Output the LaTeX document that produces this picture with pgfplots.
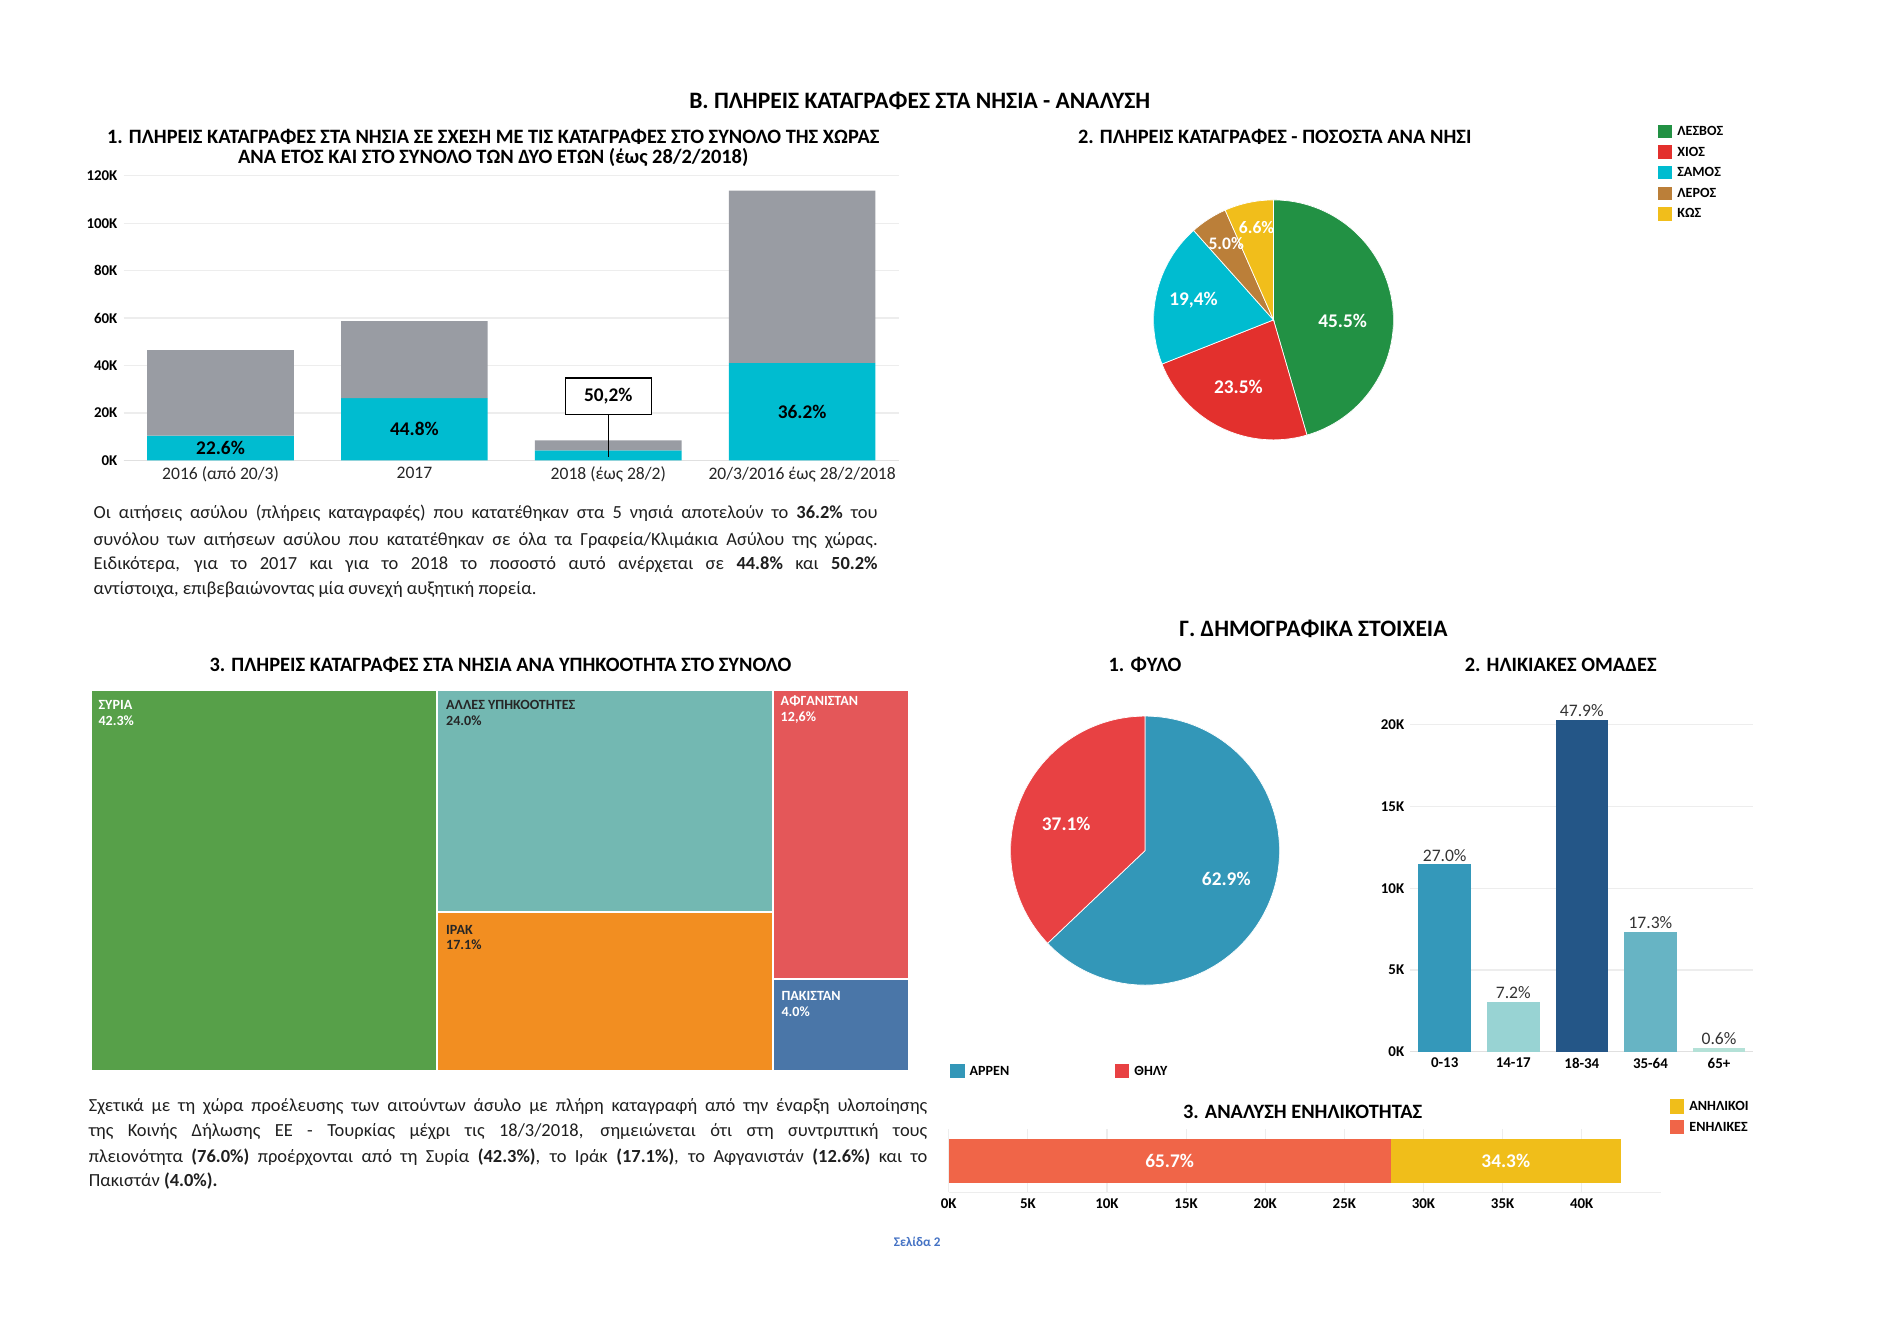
\documentclass[border=0pt]{standalone}
\usepackage{fontspec}
\setmainfont{Carlito}
\usepackage{pgfplots}
\pgfplotsset{compat=1.18}

\definecolor{cGray}{HTML}{999CA3}
\definecolor{cCyan}{HTML}{00BCD0}
\definecolor{cLesvos}{HTML}{229144}
\definecolor{cChios}{HTML}{E3302D}
\definecolor{cSamos}{HTML}{00BCD0}
\definecolor{cLeros}{HTML}{BB7F39}
\definecolor{cKos}{HTML}{F1BE1B}
\definecolor{cSyria}{HTML}{57A049}
\definecolor{cOther}{HTML}{73B8B2}
\definecolor{cIraq}{HTML}{F28E21}
\definecolor{cAfg}{HTML}{E45759}
\definecolor{cPak}{HTML}{4A76A8}
\definecolor{cMale}{HTML}{3397B8}
\definecolor{cFemale}{HTML}{E84143}
\definecolor{cAgeA}{HTML}{3498BA}
\definecolor{cAgeB}{HTML}{98D3D3}
\definecolor{cAgeC}{HTML}{245687}
\definecolor{cAgeD}{HTML}{67B4C4}
\definecolor{cAgeE}{HTML}{B4E1D7}
\definecolor{cAdult}{HTML}{F06548}
\definecolor{cMinor}{HTML}{F0BE1A}
\definecolor{cPage}{HTML}{4472C4}

\newcommand\fs[2]{\fontsize{#1}{#2}\selectfont}

% pie slices, clockwise from 12 o'clock: radius, list of pct/colour
\newcommand\pieslices[2]{%
  \gdef\piecum{0}%
  \foreach \pp/\pc in {#2}{%
    \pgfmathsetmacro\pa{90-3.6*\piecum}%
    \pgfmathsetmacro\pb{90-3.6*(\piecum+\pp)}%
    \fill[\pc, draw=white, line width=0.4pt] (axis cs:0,0) -- ++(\pa:#1)
      arc[start angle=\pa, end angle=\pb, radius=#1] -- cycle;%
    \pgfmathsetmacro\pn{\piecum+\pp}%
    \global\let\piecum\pn
  }}

\pgfplotsset{
  dash/.style={scale only axis, anchor=south west, reverse stacked plots=false,
    axis lines*=left, x axis line style={black!12}, y axis line style={draw=none},
    major tick length=0pt, grid style={black!7, line width=0.7pt}},
}

\begin{document}
\begin{tikzpicture}
\fill[white] (0,0) rectangle (380mm,-267.79mm);

% 1. stacked bars
\begin{axis}[dash, at={(24.72mm,-92.09mm)}, width=155.1mm, height=56.95mm,
  ybar stacked, bar width=29.32mm,
  xmin=-0.5, xmax=3.5, ymin=0, ymax=120,
  xtick={0,1,2,3},
  xticklabels={2016 (από 20/3), 2017, 2018 (έως 28/2), 20/3/2016 έως 28/2/2018},
  ytick={0,20,...,120}, yticklabels={0K,20K,40K,60K,80K,100K,120K},
  ymajorgrids,
  xticklabel style={font=\fs{10}{12}, text=black!85},
  yticklabel style={font=\bfseries\fs{8.5}{10}},
]
\addplot[fill=cCyan, draw=none] coordinates {(0,10.5) (1,26.3) (2,4.3) (3,41.1)};
\addplot[fill=cGray, draw=none] coordinates {(0,36.0) (1,32.4) (2,4.2) (3,72.6)};
\node[font=\bfseries\fs{11}{12}] at (axis cs:0,5.25) {22.6\%};
\node[font=\bfseries\fs{11}{12}] at (axis cs:1,13.1) {44.8\%};
\node[font=\bfseries\fs{11}{12}] at (axis cs:3,20.6) {36.2\%};
\draw[black, line width=0.6pt] (axis cs:2,1.5) -- (axis cs:2,20);
\node[draw=black, line width=0.8pt, fill=white, minimum width=17.2mm, minimum height=7.3mm,
  font=\bfseries\fs{11}{12}] at (axis cs:2,27) {50,2\%};
\end{axis}

% 2. islands pie
\begin{axis}[at={(230.71mm,-87.97mm)}, anchor=south west, scale only axis,
  width=47.98mm, height=47.98mm, xmin=-1, xmax=1, ymin=-1, ymax=1, hide axis]
\pgfplotsextra{\pieslices{23.99mm}{45.5/cLesvos,23.5/cChios,19.4/cSamos,5.0/cLeros,6.6/cKos}}
\node[text=white, font=\bfseries\fs{11}{12}] at (axis cs:0.576,-0.01) {45.5\%};
\node[text=white, font=\bfseries\fs{11}{12}] at (axis cs:-0.293,-0.556) {23.5\%};
\node[text=white, font=\bfseries\fs{11}{12}] at (axis cs:-0.667,0.162) {19,4\%};
\node[text=white, font=\bfseries\fs{10}{12}] at (axis cs:-0.394,0.636) {5.0\%};
\node[text=white, font=\bfseries\fs{10}{12}] at (axis cs:-0.141,0.768) {6.6\%};
\end{axis}

% 3. treemap
\begin{axis}[at={(18.18mm,-214.23mm)}, anchor=south west, scale only axis,
  width=163.58mm, height=76.34mm, xmin=0, xmax=100, ymin=0, ymax=100, hide axis]
\addplot[fill=cSyria, draw=white, line width=1.2pt] coordinates {(0,0) (42.3,0) (42.3,100) (0,100)} -- cycle;
\addplot[fill=cOther, draw=white, line width=1.2pt] coordinates {(42.3,41.6) (83.4,41.6) (83.4,100) (42.3,100)} -- cycle;
\addplot[fill=cIraq, draw=white, line width=1.2pt] coordinates {(42.3,0) (83.4,0) (83.4,41.6) (42.3,41.6)} -- cycle;
\addplot[fill=cAfg, draw=white, line width=1.2pt] coordinates {(83.4,24.1) (100,24.1) (100,100) (83.4,100)} -- cycle;
\addplot[fill=cPak, draw=white, line width=1.2pt] coordinates {(83.4,0) (100,0) (100,24.1) (83.4,24.1)} -- cycle;
\begin{scope}[every node/.style={anchor=north west, align=left, inner sep=0pt, font=\bfseries\fs{8}{9}}]
\node[text=white] at (axis cs:0.9,97.2) {ΣΥΡΙΑ\\42.3\%};
\node[text=black!85] at (axis cs:43.4,97.2) {ΑΛΛΕΣ ΥΠΗΚΟΟΤΗΤΕΣ\\24.0\%};
\node[text=white] at (axis cs:84.3,98.4) {ΑΦΓΑΝΙΣΤΑΝ\\12,6\%};
\node[text=black!85] at (axis cs:43.4,38.4) {ΙΡΑΚ\\17.1\%};
\node[text=white] at (axis cs:84.4,21.0) {ΠΑΚΙΣΤΑΝ\\4.0\%};
\end{scope}
\end{axis}

% Γ1. sex pie
\begin{axis}[at={(202.11mm,-197.02mm)}, anchor=south west, scale only axis,
  width=53.8mm, height=53.8mm, xmin=-1, xmax=1, ymin=-1, ymax=1, hide axis]
\pgfplotsextra{\pieslices{26.9mm}{62.9/cMale,37.1/cFemale}}
\node[text=white, font=\bfseries\fs{11}{12}] at (axis cs:0.604,-0.207) {62.9\%};
\node[text=white, font=\bfseries\fs{11}{12}] at (axis cs:-0.586,0.198) {37.1\%};
\end{axis}

% Γ2. age groups
\begin{axis}[dash, at={(282.08mm,-210.35mm)}, width=68.58mm, height=71.98mm,
  ybar, bar width=10.54mm, bar shift=0pt,
  xmin=-0.5, xmax=4.5, ymin=0, ymax=22,
  xtick={0,...,4}, xticklabels={0-13,14-17,18-34,35-64,65+},
  ytick={0,5,10,15,20}, yticklabels={0K,5K,10K,15K,20K},
  ymajorgrids,
  ticklabel style={font=\bfseries\fs{8.5}{10}},
  nodes near coords, point meta=explicit symbolic,
  nodes near coords style={font=\fs{10}{12}, text=black!80, inner sep=1.5pt},
]
\addplot[fill=cAgeA, draw=none] coordinates {(0,11.45) [27.0\%]};
\addplot[fill=cAgeB, draw=none] coordinates {(1,3.05) [7.2\%]};
\addplot[fill=cAgeC, draw=none] coordinates {(2,20.3) [47.9\%]};
\addplot[fill=cAgeD, draw=none] coordinates {(3,7.33) [17.3\%]};
\addplot[fill=cAgeE, draw=none] coordinates {(4,0.25) [0.6\%]};
\end{axis}

% Γ3. adults / minors
\begin{axis}[dash, at={(189.75mm,-238.46mm)}, width=142.42mm, height=12.6mm,
  xbar stacked, bar width=8.72mm,
  xmin=0, xmax=45, ymin=-0.5, ymax=0.5, ytick=\empty,
  xtick={0,5,...,40}, xticklabels={0K,5K,10K,15K,20K,25K,30K,35K,40K},
  xmajorgrids, y axis line style={draw=none}, x axis line style={black!7},
  xticklabel style={font=\bfseries\fs{8.5}{10}},
]
\addplot[fill=cAdult, draw=none] coordinates {(27.92,0)};
\addplot[fill=cMinor, draw=none] coordinates {(14.58,0)};
\node[text=white, font=\bfseries\fs{11}{12}] at (axis cs:13.96,0) {65.7\%};
\node[text=white, font=\bfseries\fs{11}{12}] at (axis cs:35.2,0) {34.3\%};
\end{axis}

% texts, in pixel units of the 1568 px wide view
\begin{scope}[x=0.24234mm, y=-0.24234mm]
\node[font=\bfseries\fs{13.4}{15}] at (759,83) {Β. ΠΛΗΡΕΙΣ ΚΑΤΑΓΡΑΦΕΣ ΣΤΑ ΝΗΣΙΑ - ΑΝΑΛΥΣΗ};
\node[font=\bfseries\fs{11.6}{13}] at (407,113) {1. ΠΛΗΡΕΙΣ ΚΑΤΑΓΡΑΦΕΣ ΣΤΑ ΝΗΣΙΑ ΣΕ ΣΧΕΣΗ ΜΕ ΤΙΣ ΚΑΤΑΓΡΑΦΕΣ ΣΤΟ ΣΥΝΟΛΟ ΤΗΣ ΧΩΡΑΣ};
\node[font=\bfseries\fs{11.6}{13}] at (407,130) {ΑΝΑ ΕΤΟΣ ΚΑΙ ΣΤΟ ΣΥΝΟΛΟ ΤΩΝ ΔΥΟ ΕΤΩΝ (έως 28/2/2018)};
\node[font=\bfseries\fs{11.6}{13}] at (1052,113) {2. ΠΛΗΡΕΙΣ ΚΑΤΑΓΡΑΦΕΣ - ΠΟΣΟΣΤΑ ΑΝΑ ΝΗΣΙ};
\node[font=\bfseries\fs{11.6}{13}] at (413,549) {3. ΠΛΗΡΕΙΣ ΚΑΤΑΓΡΑΦΕΣ ΣΤΑ ΝΗΣΙΑ ΑΝΑ ΥΠΗΚΟΟΤΗΤΑ ΣΤΟ ΣΥΝΟΛΟ};
\node[font=\bfseries\fs{13.4}{15}] at (1084,519) {Γ. ΔΗΜΟΓΡΑΦΙΚΑ ΣΤΟΙΧΕΙΑ};
\node[font=\bfseries\fs{11.6}{13}] at (945,549) {1. ΦΥΛΟ};
\node[font=\bfseries\fs{11.6}{13}] at (1288,549) {2. ΗΛΙΚΙΑΚΕΣ ΟΜΑΔΕΣ};
\node[font=\bfseries\fs{11.6}{13}] at (1075,918) {3. ΑΝΑΛΥΣΗ ΕΝΗΛΙΚΟΤΗΤΑΣ};

% legends
\begin{scope}[every node/.style={anchor=west, inner sep=0pt, font=\bfseries\fs{8}{9}}]
\fill[cLesvos] (1368,103) rectangle (1380,114); \node at (1384,108) {ΛΕΣΒΟΣ};
\fill[cChios]  (1368,120) rectangle (1380,131); \node at (1384,125) {ΧΙΟΣ};
\fill[cSamos]  (1368,137) rectangle (1380,148); \node at (1384,142) {ΣΑΜΟΣ};
\fill[cLeros]  (1368,154) rectangle (1380,165); \node at (1384,159) {ΛΕΡΟΣ};
\fill[cKos]    (1368,171) rectangle (1380,182); \node at (1384,176) {ΚΩΣ};
\fill[cMale]   (784,878) rectangle (796,890); \node at (800,884) {ΑΡΡΕΝ};
\fill[cFemale] (920,878) rectangle (932,890); \node at (936,884) {ΘΗΛΥ};
\fill[cMinor]  (1378,907) rectangle (1390,919); \node at (1394,913) {ΑΝΗΛΙΚΟΙ};
\fill[cAdult]  (1378,924) rectangle (1390,936); \node at (1394,930) {ΕΝΗΛΙΚΕΣ};
\end{scope}

% paragraphs
\begin{scope}[every node/.style={anchor=base west, inner sep=0pt, font=\fs{10.5}{13}, text=black!88}]
\node at (77,428) {\makebox[156.8mm][s]{Οι αιτήσεις ασύλου (πλήρεις καταγραφές) που κατατέθηκαν στα 5 νησιά αποτελούν το \textbf{36.2\%} του}};
\node at (77,450) {\makebox[156.8mm][s]{συνόλου των αιτήσεων ασύλου που κατατέθηκαν σε όλα τα Γραφεία/Κλιμάκια Ασύλου της χώρας.}};
\node at (77,470) {\makebox[156.8mm][s]{Ειδικότερα, για το 2017 και για το 2018 το ποσοστό αυτό ανέρχεται σε \textbf{44.8\%} και \textbf{50.2\%}}};
\node at (77,491) {αντίστοιχα, επιβεβαιώνοντας μία συνεχή αυξητική πορεία.};
\node at (73,917) {\makebox[167.7mm][s]{Σχετικά με τη χώρα προέλευσης των αιτούντων άσυλο με πλήρη καταγραφή από την έναρξη υλοποίησης}};
\node at (73,938) {\makebox[167.7mm][s]{της Κοινής Δήλωσης ΕΕ - Τουρκίας μέχρι τις 18/3/2018, σημειώνεται ότι στη συντριπτική τους}};
\node at (73,959) {\makebox[167.7mm][s]{πλειονότητα \textbf{(76.0\%)} προέρχονται από τη Συρία \textbf{(42.3\%)}, το Ιράκ \textbf{(17.1\%)}, το Αφγανιστάν \textbf{(12.6\%)} και το}};
\node at (73,979) {Πακιστάν \textbf{(4.0\%).}};
\end{scope}
\node[font=\bfseries\fs{7.5}{9}, text=cPage] at (757,1025) {Σελίδα 2};
\end{scope}
\end{tikzpicture}
\end{document}
